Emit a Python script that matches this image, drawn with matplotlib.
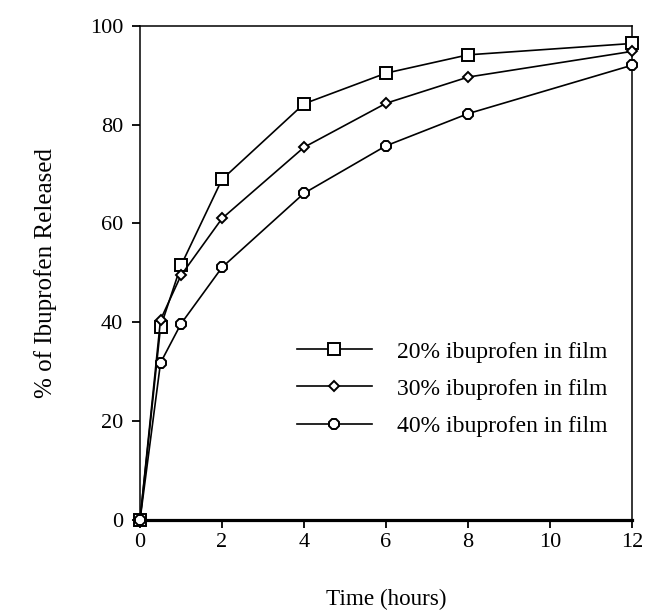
import matplotlib
matplotlib.use("Agg")
import matplotlib.pyplot as plt

time_h = [0, 0.5, 1, 2, 4, 6, 8, 12]
rel_20 = [0, 39.0, 51.5, 68.9, 84.2, 90.4, 94.1, 96.4]
rel_30 = [0, 40.5, 49.5, 61.0, 75.4, 84.3, 89.6, 94.8]
rel_40 = [0, 31.8, 39.7, 51.1, 66.1, 75.7, 82.2, 92.0]
labels = ["20% ibuprofen in film", "30% ibuprofen in film", "40% ibuprofen in film"]
xticks = [0, 2, 4, 6, 8, 10, 12]
yticks = [0, 20, 40, 60, 80, 100]

plt.rcParams['font.family'] = ['Liberation Serif', 'DejaVu Serif']

fig = plt.figure(figsize=(6.47, 6.10), dpi=100)
ax = fig.add_axes([0.2164, 0.1475, 0.7604, 0.8104])

styles = [dict(marker='s', ms=8), dict(marker='D', ms=5.5), dict(marker='8', ms=8.5)]
for ys, lab, st in zip([rel_20, rel_30, rel_40], labels, styles):
    ax.plot(time_h, ys, color='black', lw=1.2, mfc='white', mec='black', mew=1.4,
            label=lab, clip_on=False, zorder=3, **st)

ax.set_xlim(0, 12)
ax.set_ylim(0, 100)
ax.set_xticks(xticks)
ax.set_yticks(yticks)
ax.tick_params(direction='out', length=6, width=1.3, labelsize=16, pad=3)
ax.tick_params(axis='y', pad=6)
for s in ['top', 'right', 'left']:
    ax.spines[s].set_linewidth(1.1)
ax.spines['bottom'].set_linewidth(2.3)

ax.set_xlabel('Time (hours)', fontsize=16.7, labelpad=27)
ax.set_ylabel('% of Ibuprofen Released', fontsize=18, labelpad=24)

leg = ax.legend(loc='upper left', bbox_to_anchor=(0.319, 0.362), frameon=False,
                fontsize=17, handlelength=3.17, handletextpad=1.05, labelspacing=0.66,
                borderpad=0, borderaxespad=0)

fig.savefig('out.png', dpi=100)
